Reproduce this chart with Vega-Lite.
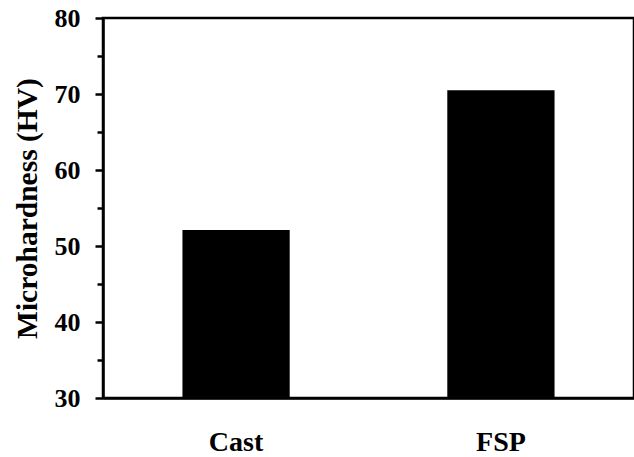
{
  "$schema": "https://vega.github.io/schema/vega-lite/v6.json",
  "autosize": {"type": "none"},
  "padding": {"left": 103, "top": 18, "right": 0, "bottom": 59},
  "width": 531,
  "height": 380,
  "background": "white",
  "config": {
    "font": "Liberation Serif",
    "view": {"stroke": "black", "strokeWidth": 2.5},
    "axis": {"labelFont": "Liberation Serif, Times New Roman, serif", "titleFont": "Liberation Serif, Times New Roman, serif", "labelFontWeight": "bold", "titleFontWeight": "bold", "labelColor": "black", "titleColor": "black", "domainColor": "black", "tickColor": "black", "grid": false}
  },
  "data": {"values": [
    {"sample": "Cast", "hv": 52.1},
    {"sample": "FSP", "hv": 70.5}
  ]},
  "layer": [
    {
      "mark": {"type": "bar", "color": "black", "clip": true},
      "encoding": {
        "x": {"field": "sample", "type": "nominal", "sort": null,
          "scale": {"paddingInner": 0.595, "paddingOuter": 0.3},
          "axis": {"title": null, "labelAngle": 0, "ticks": false, "tickSize": 0, "labelPadding": 30, "labelFontSize": 28, "domainWidth": 2.5, "labelBaseline": "top"}},
        "y": {"field": "hv", "type": "quantitative",
          "scale": {"domain": [30, 80], "nice": false, "zero": false},
          "axis": {"orient": "left", "values": [30, 40, 50, 60, 70, 80], "tickSize": 8, "tickWidth": 2.5, "labelPadding": 15, "labelFontSize": 26, "domainWidth": 2.5, "title": "Microhardness (HV)", "titleFontSize": 29.5, "titlePadding": 12}}
      }
    },
    {
      "mark": {"type": "bar", "color": "black", "opacity": 0, "clip": true},
      "encoding": {
        "x": {"field": "sample", "type": "nominal", "sort": null},
        "y": {"field": "hv", "type": "quantitative",
          "axis": {"orient": "left", "values": [35, 45, 55, 65, 75], "tickSize": 6, "tickWidth": 2.5, "labels": false, "domain": false, "title": null}}
      }
    }
  ],
  "resolve": {"axis": {"y": "independent"}}
}
